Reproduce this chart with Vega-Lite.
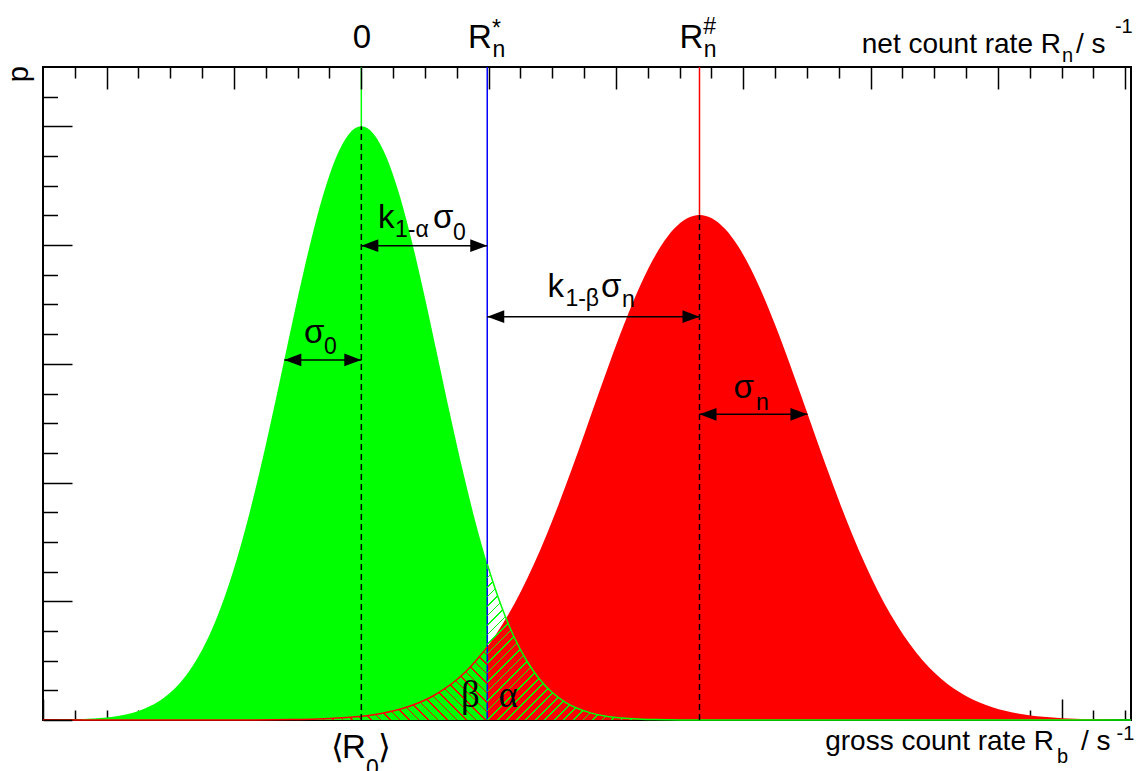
{
  "$schema": "https://vega.github.io/schema/vega-lite/v6.json",
  "width": 1088,
  "height": 653,
  "autosize": {"type": "none"},
  "padding": {"left": 43, "top": 67, "right": 5, "bottom": 51},
  "background": "white",
  "config": {
    "view": {"stroke": "#000", "strokeWidth": 2},
    "font": "Liberation Sans",
    "text": {"baseline": "alphabetic", "color": "#000", "font": "Liberation Sans"}
  },
  "resolve": {"axis": {"x": "independent", "y": "independent"}},
  "datasets": {
    "green": [
      {"x": 0, "y": 0.001}, {"x": 0.1, "y": 0.0019}, {"x": 0.2, "y": 0.0036}, {"x": 0.3, "y": 0.0067},
      {"x": 0.4, "y": 0.0121}, {"x": 0.5, "y": 0.0212}, {"x": 0.6, "y": 0.0361}, {"x": 0.7, "y": 0.0598},
      {"x": 0.8, "y": 0.0965}, {"x": 0.9, "y": 0.1514}, {"x": 1.0, "y": 0.2313}, {"x": 1.1, "y": 0.3437},
      {"x": 1.2, "y": 0.497}, {"x": 1.3, "y": 0.6993}, {"x": 1.4, "y": 0.9575}, {"x": 1.5, "y": 1.2756},
      {"x": 1.6, "y": 1.6536}, {"x": 1.7, "y": 2.0858}, {"x": 1.8, "y": 2.5602}, {"x": 1.9, "y": 3.0577},
      {"x": 2.0, "y": 3.5536}, {"x": 2.1, "y": 4.0184}, {"x": 2.2, "y": 4.4216}, {"x": 2.3, "y": 4.7341},
      {"x": 2.4, "y": 4.9322}, {"x": 2.5, "y": 5.0}, {"x": 2.6, "y": 4.9322}, {"x": 2.7, "y": 4.7341},
      {"x": 2.8, "y": 4.4216}, {"x": 2.9, "y": 4.0184}, {"x": 3.0, "y": 3.5536}, {"x": 3.1, "y": 3.0577},
      {"x": 3.2, "y": 2.5602}, {"x": 3.3, "y": 2.0858}, {"x": 3.4, "y": 1.6536}, {"x": 3.489, "y": 1.3142},
      {"x": 3.5, "y": 1.2756}, {"x": 3.6, "y": 0.9575}, {"x": 3.7, "y": 0.6993}, {"x": 3.8, "y": 0.497},
      {"x": 3.9, "y": 0.3437}, {"x": 4.0, "y": 0.2313}, {"x": 4.1, "y": 0.1514}, {"x": 4.2, "y": 0.0965},
      {"x": 4.3, "y": 0.0598}, {"x": 4.4, "y": 0.0361}, {"x": 4.5, "y": 0.0212}, {"x": 4.6, "y": 0.0121},
      {"x": 4.7, "y": 0.0067}, {"x": 4.8, "y": 0.0036}, {"x": 4.9, "y": 0.0019}, {"x": 5.0, "y": 0.001},
      {"x": 5.5, "y": 0.0001}, {"x": 6.5, "y": 0}, {"x": 8.545, "y": 0}
    ],
    "red": [
      {"x": 0, "y": 0}, {"x": 1.656, "y": 0.0008}, {"x": 1.956, "y": 0.0034}, {"x": 2.156, "y": 0.0081},
      {"x": 2.256, "y": 0.0123}, {"x": 2.356, "y": 0.0183}, {"x": 2.456, "y": 0.0268}, {"x": 2.556, "y": 0.0387},
      {"x": 2.656, "y": 0.0551}, {"x": 2.756, "y": 0.0776}, {"x": 2.856, "y": 0.1075}, {"x": 2.956, "y": 0.147},
      {"x": 3.056, "y": 0.1982}, {"x": 3.156, "y": 0.2635}, {"x": 3.256, "y": 0.3457}, {"x": 3.356, "y": 0.4471},
      {"x": 3.456, "y": 0.5703}, {"x": 3.489, "y": 0.6161}, {"x": 3.556, "y": 0.7174}, {"x": 3.656, "y": 0.8899},
      {"x": 3.756, "y": 1.0888}, {"x": 3.856, "y": 1.3136}, {"x": 3.956, "y": 1.563}, {"x": 4.056, "y": 1.8341},
      {"x": 4.156, "y": 2.1224}, {"x": 4.256, "y": 2.4221}, {"x": 4.356, "y": 2.7261}, {"x": 4.456, "y": 3.0258},
      {"x": 4.556, "y": 3.312}, {"x": 4.656, "y": 3.5752}, {"x": 4.756, "y": 3.8061}, {"x": 4.856, "y": 3.996},
      {"x": 4.956, "y": 4.1373}, {"x": 5.056, "y": 4.2245}, {"x": 5.156, "y": 4.254}, {"x": 5.256, "y": 4.2245},
      {"x": 5.356, "y": 4.1373}, {"x": 5.456, "y": 3.996}, {"x": 5.556, "y": 3.8061}, {"x": 5.656, "y": 3.5752},
      {"x": 5.756, "y": 3.312}, {"x": 5.856, "y": 3.0258}, {"x": 5.956, "y": 2.7261}, {"x": 6.056, "y": 2.4221},
      {"x": 6.156, "y": 2.1224}, {"x": 6.256, "y": 1.8341}, {"x": 6.356, "y": 1.563}, {"x": 6.456, "y": 1.3136},
      {"x": 6.556, "y": 1.0888}, {"x": 6.656, "y": 0.8899}, {"x": 6.756, "y": 0.7174}, {"x": 6.856, "y": 0.5703},
      {"x": 6.956, "y": 0.4471}, {"x": 7.056, "y": 0.3457}, {"x": 7.156, "y": 0.2635}, {"x": 7.256, "y": 0.1982},
      {"x": 7.356, "y": 0.147}, {"x": 7.456, "y": 0.1075}, {"x": 7.556, "y": 0.0776}, {"x": 7.656, "y": 0.0551},
      {"x": 7.756, "y": 0.0387}, {"x": 7.856, "y": 0.0268}, {"x": 7.956, "y": 0.0183}, {"x": 8.056, "y": 0.0123},
      {"x": 8.156, "y": 0.0081}, {"x": 8.356, "y": 0.0034}, {"x": 8.545, "y": 0.0014}
    ]
  },
  "layer": [
    {
      "data": {"name": "red"},
      "mark": {"type": "area", "color": "#ff0000", "interpolate": "monotone"},
      "encoding": {
        "x": {"field": "x", "type": "quantitative", "scale": {"domain": [0, 8.545], "nice": false, "zero": false},
          "axis": {"orient": "top", "values": [0.5, 1.5, 2.5, 3.5, 4.5, 5.5, 6.5, 7.5, 8.5], "tickSize": -22, "labels": false, "domain": false, "grid": false, "title": null, "tickColor": "#000", "tickWidth": 1.5, "zindex": 1}},
        "y": {"field": "y", "type": "quantitative", "scale": {"domain": [0, 5.5], "nice": false},
          "axis": {"orient": "left", "values": [0, 1, 2, 3, 4, 5], "tickSize": -29, "labels": false, "domain": false, "grid": false, "title": null, "tickColor": "#000", "tickWidth": 1.5, "zindex": 1}}
      }
    },
    {
      "data": {"name": "green"},
      "transform": [{"filter": "datum.x <= 3.489"}],
      "mark": {"type": "area", "color": "#00ff00", "interpolate": "monotone"},
      "encoding": {
        "x": {"field": "x", "type": "quantitative",
          "axis": {"orient": "top", "values": [0.25, 0.75, 1, 1.25, 1.75, 2, 2.25, 2.75, 3, 3.25, 3.75, 4, 4.25, 4.75, 5, 5.25, 5.75, 6, 6.25, 6.75, 7, 7.25, 7.75, 8, 8.25], "tickSize": -11, "labels": false, "domain": false, "grid": false, "title": null, "tickColor": "#000", "tickWidth": 1.5, "zindex": 1}},
        "y": {"field": "y", "type": "quantitative",
          "axis": {"orient": "left", "values": [0.25, 0.5, 0.75, 1.25, 1.5, 1.75, 2.25, 2.5, 2.75, 3.25, 3.5, 3.75, 4.25, 4.5, 4.75, 5.25], "tickSize": -14.5, "labels": false, "domain": false, "grid": false, "title": null, "tickColor": "#000", "tickWidth": 1.5, "zindex": 1}}
      }
    },
    {
      "data": {"values": [
        {"x": 2.5, "y": 5, "y2": 5.5, "line": "center"},
        {"x": 3.489, "y": 0, "y2": 5.5, "line": "limit"},
        {"x": 5.156, "y": 4.254, "y2": 5.5, "line": "mean"}
      ]},
      "mark": {"type": "rule", "strokeWidth": 1.5},
      "encoding": {
        "x": {"field": "x", "type": "quantitative", "axis": null},
        "y": {"field": "y", "type": "quantitative", "axis": null},
        "y2": {"field": "y2"},
        "color": {"field": "line", "type": "nominal", "scale": {"domain": ["center", "limit", "mean"], "range": ["#00ff00", "#0000ff", "#ff0000"]}, "legend": null}
      }
    },
    {
      "data": {"name": "red"},
      "transform": [{"filter": "datum.x >= 1.956 && datum.x <= 3.489"}],
      "mark": {"type": "area", "interpolate": "monotone",
        "fill": {"gradient": "linear", "x1": 0, "y1": 1, "x2": 1.2055, "y2": 0.5482, "stops": [
          {"offset": 0.01, "color": "transparent"}, {"offset": 0.01, "color": "#ff0000"}, {"offset": 0.016, "color": "#ff0000"}, {"offset": 0.016, "color": "transparent"},
          {"offset": 0.0454, "color": "transparent"}, {"offset": 0.0454, "color": "#ff0000"}, {"offset": 0.0514, "color": "#ff0000"}, {"offset": 0.0514, "color": "transparent"},
          {"offset": 0.0808, "color": "transparent"}, {"offset": 0.0808, "color": "#ff0000"}, {"offset": 0.0868, "color": "#ff0000"}, {"offset": 0.0868, "color": "transparent"},
          {"offset": 0.1162, "color": "transparent"}, {"offset": 0.1162, "color": "#ff0000"}, {"offset": 0.1222, "color": "#ff0000"}, {"offset": 0.1222, "color": "transparent"},
          {"offset": 0.1516, "color": "transparent"}, {"offset": 0.1516, "color": "#ff0000"}, {"offset": 0.1576, "color": "#ff0000"}, {"offset": 0.1576, "color": "transparent"},
          {"offset": 0.187, "color": "transparent"}, {"offset": 0.187, "color": "#ff0000"}, {"offset": 0.193, "color": "#ff0000"}, {"offset": 0.193, "color": "transparent"},
          {"offset": 0.2224, "color": "transparent"}, {"offset": 0.2224, "color": "#ff0000"}, {"offset": 0.2284, "color": "#ff0000"}, {"offset": 0.2284, "color": "transparent"},
          {"offset": 0.2578, "color": "transparent"}, {"offset": 0.2578, "color": "#ff0000"}, {"offset": 0.2638, "color": "#ff0000"}, {"offset": 0.2638, "color": "transparent"},
          {"offset": 0.2932, "color": "transparent"}, {"offset": 0.2932, "color": "#ff0000"}, {"offset": 0.2992, "color": "#ff0000"}, {"offset": 0.2992, "color": "transparent"},
          {"offset": 0.3286, "color": "transparent"}, {"offset": 0.3286, "color": "#ff0000"}, {"offset": 0.3346, "color": "#ff0000"}, {"offset": 0.3346, "color": "transparent"},
          {"offset": 0.364, "color": "transparent"}, {"offset": 0.364, "color": "#ff0000"}, {"offset": 0.37, "color": "#ff0000"}, {"offset": 0.37, "color": "transparent"},
          {"offset": 0.3994, "color": "transparent"}, {"offset": 0.3994, "color": "#ff0000"}, {"offset": 0.4054, "color": "#ff0000"}, {"offset": 0.4054, "color": "transparent"},
          {"offset": 0.4348, "color": "transparent"}, {"offset": 0.4348, "color": "#ff0000"}, {"offset": 0.4408, "color": "#ff0000"}, {"offset": 0.4408, "color": "transparent"},
          {"offset": 0.4702, "color": "transparent"}, {"offset": 0.4702, "color": "#ff0000"}, {"offset": 0.4762, "color": "#ff0000"}, {"offset": 0.4762, "color": "transparent"},
          {"offset": 0.5056, "color": "transparent"}, {"offset": 0.5056, "color": "#ff0000"}, {"offset": 0.5116, "color": "#ff0000"}, {"offset": 0.5116, "color": "transparent"},
          {"offset": 0.541, "color": "transparent"}, {"offset": 0.541, "color": "#ff0000"}, {"offset": 0.547, "color": "#ff0000"}, {"offset": 0.547, "color": "transparent"},
          {"offset": 0.5764, "color": "transparent"}, {"offset": 0.5764, "color": "#ff0000"}, {"offset": 0.5824, "color": "#ff0000"}, {"offset": 0.5824, "color": "transparent"},
          {"offset": 0.6118, "color": "transparent"}, {"offset": 0.6118, "color": "#ff0000"}, {"offset": 0.6178, "color": "#ff0000"}, {"offset": 0.6178, "color": "transparent"},
          {"offset": 0.6472, "color": "transparent"}, {"offset": 0.6472, "color": "#ff0000"}, {"offset": 0.6532, "color": "#ff0000"}, {"offset": 0.6532, "color": "transparent"},
          {"offset": 0.6826, "color": "transparent"}, {"offset": 0.6826, "color": "#ff0000"}, {"offset": 0.6886, "color": "#ff0000"}, {"offset": 0.6886, "color": "transparent"},
          {"offset": 0.718, "color": "transparent"}, {"offset": 0.718, "color": "#ff0000"}, {"offset": 0.724, "color": "#ff0000"}, {"offset": 0.724, "color": "transparent"},
          {"offset": 0.7534, "color": "transparent"}, {"offset": 0.7534, "color": "#ff0000"}, {"offset": 0.7594, "color": "#ff0000"}, {"offset": 0.7594, "color": "transparent"},
          {"offset": 0.7888, "color": "transparent"}, {"offset": 0.7888, "color": "#ff0000"}, {"offset": 0.7948, "color": "#ff0000"}, {"offset": 0.7948, "color": "transparent"},
          {"offset": 0.8242, "color": "transparent"}, {"offset": 0.8242, "color": "#ff0000"}, {"offset": 0.8302, "color": "#ff0000"}, {"offset": 0.8302, "color": "transparent"},
          {"offset": 0.8596, "color": "transparent"}, {"offset": 0.8596, "color": "#ff0000"}, {"offset": 0.8656, "color": "#ff0000"}, {"offset": 0.8656, "color": "transparent"},
          {"offset": 0.895, "color": "transparent"}, {"offset": 0.895, "color": "#ff0000"}, {"offset": 0.901, "color": "#ff0000"}, {"offset": 0.901, "color": "transparent"},
          {"offset": 0.9304, "color": "transparent"}, {"offset": 0.9304, "color": "#ff0000"}, {"offset": 0.9364, "color": "#ff0000"}, {"offset": 0.9364, "color": "transparent"},
          {"offset": 0.9658, "color": "transparent"}, {"offset": 0.9658, "color": "#ff0000"}, {"offset": 0.9718, "color": "#ff0000"}, {"offset": 0.9718, "color": "transparent"}
        ]}},
      "encoding": {
        "x": {"field": "x", "type": "quantitative",
          "axis": {"orient": "bottom", "values": [0, 1, 2, 3, 4, 5, 6, 7, 8], "tickSize": -21, "labels": false, "domain": false, "grid": false, "title": null, "tickColor": "#000", "tickWidth": 1.5, "zindex": 0}},
        "y": {"field": "y", "type": "quantitative", "axis": null}
      }
    },
    {
      "data": {"name": "green"},
      "transform": [{"filter": "datum.x >= 3.489 && datum.x <= 5.0"}],
      "mark": {"type": "area", "interpolate": "monotone",
        "fill": {"gradient": "linear", "x1": 0, "y1": 0, "x2": 1.0925, "y2": 0.886, "stops": [
          {"offset": 0.01, "color": "transparent"}, {"offset": 0.01, "color": "#00ff00"}, {"offset": 0.0146, "color": "#00ff00"}, {"offset": 0.0146, "color": "transparent"},
          {"offset": 0.0373, "color": "transparent"}, {"offset": 0.0373, "color": "#00ff00"}, {"offset": 0.0419, "color": "#00ff00"}, {"offset": 0.0419, "color": "transparent"},
          {"offset": 0.0646, "color": "transparent"}, {"offset": 0.0646, "color": "#00ff00"}, {"offset": 0.0692, "color": "#00ff00"}, {"offset": 0.0692, "color": "transparent"},
          {"offset": 0.0919, "color": "transparent"}, {"offset": 0.0919, "color": "#00ff00"}, {"offset": 0.0965, "color": "#00ff00"}, {"offset": 0.0965, "color": "transparent"},
          {"offset": 0.1192, "color": "transparent"}, {"offset": 0.1192, "color": "#00ff00"}, {"offset": 0.1238, "color": "#00ff00"}, {"offset": 0.1238, "color": "transparent"},
          {"offset": 0.1465, "color": "transparent"}, {"offset": 0.1465, "color": "#00ff00"}, {"offset": 0.1511, "color": "#00ff00"}, {"offset": 0.1511, "color": "transparent"},
          {"offset": 0.1738, "color": "transparent"}, {"offset": 0.1738, "color": "#00ff00"}, {"offset": 0.1784, "color": "#00ff00"}, {"offset": 0.1784, "color": "transparent"},
          {"offset": 0.2011, "color": "transparent"}, {"offset": 0.2011, "color": "#00ff00"}, {"offset": 0.2057, "color": "#00ff00"}, {"offset": 0.2057, "color": "transparent"},
          {"offset": 0.2284, "color": "transparent"}, {"offset": 0.2284, "color": "#00ff00"}, {"offset": 0.233, "color": "#00ff00"}, {"offset": 0.233, "color": "transparent"},
          {"offset": 0.2557, "color": "transparent"}, {"offset": 0.2557, "color": "#00ff00"}, {"offset": 0.2603, "color": "#00ff00"}, {"offset": 0.2603, "color": "transparent"},
          {"offset": 0.283, "color": "transparent"}, {"offset": 0.283, "color": "#00ff00"}, {"offset": 0.2876, "color": "#00ff00"}, {"offset": 0.2876, "color": "transparent"},
          {"offset": 0.3103, "color": "transparent"}, {"offset": 0.3103, "color": "#00ff00"}, {"offset": 0.3149, "color": "#00ff00"}, {"offset": 0.3149, "color": "transparent"},
          {"offset": 0.3376, "color": "transparent"}, {"offset": 0.3376, "color": "#00ff00"}, {"offset": 0.3422, "color": "#00ff00"}, {"offset": 0.3422, "color": "transparent"},
          {"offset": 0.3649, "color": "transparent"}, {"offset": 0.3649, "color": "#00ff00"}, {"offset": 0.3695, "color": "#00ff00"}, {"offset": 0.3695, "color": "transparent"},
          {"offset": 0.3922, "color": "transparent"}, {"offset": 0.3922, "color": "#00ff00"}, {"offset": 0.3968, "color": "#00ff00"}, {"offset": 0.3968, "color": "transparent"},
          {"offset": 0.4195, "color": "transparent"}, {"offset": 0.4195, "color": "#00ff00"}, {"offset": 0.4241, "color": "#00ff00"}, {"offset": 0.4241, "color": "transparent"},
          {"offset": 0.4468, "color": "transparent"}, {"offset": 0.4468, "color": "#00ff00"}, {"offset": 0.4514, "color": "#00ff00"}, {"offset": 0.4514, "color": "transparent"},
          {"offset": 0.4741, "color": "transparent"}, {"offset": 0.4741, "color": "#00ff00"}, {"offset": 0.4787, "color": "#00ff00"}, {"offset": 0.4787, "color": "transparent"},
          {"offset": 0.5014, "color": "transparent"}, {"offset": 0.5014, "color": "#00ff00"}, {"offset": 0.506, "color": "#00ff00"}, {"offset": 0.506, "color": "transparent"},
          {"offset": 0.5287, "color": "transparent"}, {"offset": 0.5287, "color": "#00ff00"}, {"offset": 0.5333, "color": "#00ff00"}, {"offset": 0.5333, "color": "transparent"},
          {"offset": 0.556, "color": "transparent"}, {"offset": 0.556, "color": "#00ff00"}, {"offset": 0.5606, "color": "#00ff00"}, {"offset": 0.5606, "color": "transparent"},
          {"offset": 0.5833, "color": "transparent"}, {"offset": 0.5833, "color": "#00ff00"}, {"offset": 0.5879, "color": "#00ff00"}, {"offset": 0.5879, "color": "transparent"},
          {"offset": 0.6106, "color": "transparent"}, {"offset": 0.6106, "color": "#00ff00"}, {"offset": 0.6152, "color": "#00ff00"}, {"offset": 0.6152, "color": "transparent"},
          {"offset": 0.6379, "color": "transparent"}, {"offset": 0.6379, "color": "#00ff00"}, {"offset": 0.6425, "color": "#00ff00"}, {"offset": 0.6425, "color": "transparent"},
          {"offset": 0.6652, "color": "transparent"}, {"offset": 0.6652, "color": "#00ff00"}, {"offset": 0.6698, "color": "#00ff00"}, {"offset": 0.6698, "color": "transparent"},
          {"offset": 0.6925, "color": "transparent"}, {"offset": 0.6925, "color": "#00ff00"}, {"offset": 0.6971, "color": "#00ff00"}, {"offset": 0.6971, "color": "transparent"},
          {"offset": 0.7198, "color": "transparent"}, {"offset": 0.7198, "color": "#00ff00"}, {"offset": 0.7244, "color": "#00ff00"}, {"offset": 0.7244, "color": "transparent"},
          {"offset": 0.7471, "color": "transparent"}, {"offset": 0.7471, "color": "#00ff00"}, {"offset": 0.7517, "color": "#00ff00"}, {"offset": 0.7517, "color": "transparent"},
          {"offset": 0.7744, "color": "transparent"}, {"offset": 0.7744, "color": "#00ff00"}, {"offset": 0.779, "color": "#00ff00"}, {"offset": 0.779, "color": "transparent"},
          {"offset": 0.8017, "color": "transparent"}, {"offset": 0.8017, "color": "#00ff00"}, {"offset": 0.8063, "color": "#00ff00"}, {"offset": 0.8063, "color": "transparent"},
          {"offset": 0.829, "color": "transparent"}, {"offset": 0.829, "color": "#00ff00"}, {"offset": 0.8336, "color": "#00ff00"}, {"offset": 0.8336, "color": "transparent"},
          {"offset": 0.8563, "color": "transparent"}, {"offset": 0.8563, "color": "#00ff00"}, {"offset": 0.8609, "color": "#00ff00"}, {"offset": 0.8609, "color": "transparent"},
          {"offset": 0.8836, "color": "transparent"}, {"offset": 0.8836, "color": "#00ff00"}, {"offset": 0.8882, "color": "#00ff00"}, {"offset": 0.8882, "color": "transparent"},
          {"offset": 0.9109, "color": "transparent"}, {"offset": 0.9109, "color": "#00ff00"}, {"offset": 0.9155, "color": "#00ff00"}, {"offset": 0.9155, "color": "transparent"},
          {"offset": 0.9382, "color": "transparent"}, {"offset": 0.9382, "color": "#00ff00"}, {"offset": 0.9428, "color": "#00ff00"}, {"offset": 0.9428, "color": "transparent"},
          {"offset": 0.9655, "color": "transparent"}, {"offset": 0.9655, "color": "#00ff00"}, {"offset": 0.9701, "color": "#00ff00"}, {"offset": 0.9701, "color": "transparent"}
        ]}},
      "encoding": {
        "x": {"field": "x", "type": "quantitative",
          "axis": {"orient": "bottom", "values": [0.25, 0.5, 0.75, 1.25, 1.5, 1.75, 2.25, 2.5, 2.75, 3.25, 3.5, 3.75, 4.25, 4.5, 4.75, 5.25, 5.5, 5.75, 6.25, 6.5, 6.75, 7.25, 7.5, 7.75, 8.25, 8.5], "tickSize": -10, "labels": false, "domain": false, "grid": false, "title": null, "tickColor": "#000", "tickWidth": 1.5, "zindex": 0}},
        "y": {"field": "y", "type": "quantitative", "axis": null}
      }
    },
    {
      "data": {"name": "red"},
      "transform": [{"filter": "datum.x <= 3.489"}],
      "mark": {"type": "line", "color": "#ff0000", "strokeWidth": 1.5, "interpolate": "monotone"},
      "encoding": {
        "x": {"field": "x", "type": "quantitative", "axis": null},
        "y": {"field": "y", "type": "quantitative", "axis": null}
      }
    },
    {
      "data": {"name": "green"},
      "transform": [{"filter": "datum.x >= 3.489"}],
      "mark": {"type": "line", "color": "#00ff00", "strokeWidth": 1.5, "interpolate": "monotone"},
      "encoding": {
        "x": {"field": "x", "type": "quantitative", "axis": null},
        "y": {"field": "y", "type": "quantitative", "axis": null}
      }
    },
    {
      "data": {"values": [
        {"x": 2.5, "y": 0, "y2": 5.0},
        {"x": 5.156, "y": 0, "y2": 4.254}
      ]},
      "mark": {"type": "rule", "color": "#000", "strokeWidth": 1.5, "strokeDash": [6, 4]},
      "encoding": {
        "x": {"field": "x", "type": "quantitative", "axis": null},
        "y": {"field": "y", "type": "quantitative", "axis": null},
        "y2": {"field": "y2"}
      }
    },
    {
      "data": {"values": [
        {"x": 1.895, "x2": 2.5, "y": 3.033},
        {"x": 2.5, "x2": 3.489, "y": 3.995},
        {"x": 3.489, "x2": 5.156, "y": 3.397},
        {"x": 5.156, "x2": 6.004, "y": 2.575}
      ]},
      "mark": {"type": "rule", "color": "#000", "strokeWidth": 1.5},
      "encoding": {
        "x": {"field": "x", "type": "quantitative", "axis": null},
        "x2": {"field": "x2"},
        "y": {"field": "y", "type": "quantitative", "axis": null}
      }
    },
    {
      "data": {"values": [
        {"x": 1.895, "y": 3.033, "dir": "left"}, {"x": 2.5, "y": 3.033, "dir": "right"},
        {"x": 2.5, "y": 3.995, "dir": "left"}, {"x": 3.489, "y": 3.995, "dir": "right"},
        {"x": 3.489, "y": 3.397, "dir": "left"}, {"x": 5.156, "y": 3.397, "dir": "right"},
        {"x": 5.156, "y": 2.575, "dir": "left"}, {"x": 6.004, "y": 2.575, "dir": "right"}
      ]},
      "mark": {"type": "point", "filled": true, "opacity": 1, "color": "#000", "strokeWidth": 0, "size": 289},
      "encoding": {
        "x": {"field": "x", "type": "quantitative", "axis": null},
        "y": {"field": "y", "type": "quantitative", "axis": null},
        "shape": {"field": "dir", "type": "nominal", "legend": null,
          "scale": {"domain": ["left", "right"], "range": ["M0,0L2,-0.75L2,0.75Z", "M0,0L-2,-0.75L-2,0.75Z"]}}
      }
    },
    {
      "data": {"values": [
        {"x": 3.338, "y": 5.658, "t": "R"},
        {"x": 4.999, "y": 5.658, "t": "R"},
        {"x": 2.05, "y": 3.175, "t": "σ"},
        {"x": 2.631, "y": 4.14, "t": "k"},
        {"x": 3.063, "y": 4.14, "t": "σ"},
        {"x": 3.962, "y": 3.563, "t": "k"},
        {"x": 4.382, "y": 3.563, "t": "σ"},
        {"x": 5.423, "y": 2.712, "t": "σ"},
        {"x": 2.348, "y": -0.32, "t": "R"}
      ]},
      "mark": {"type": "text", "align": "left", "fontSize": 33},
      "encoding": {
        "x": {"field": "x", "type": "quantitative", "axis": null},
        "y": {"field": "y", "type": "quantitative", "axis": null},
        "text": {"field": "t"}
      }
    },
    {
      "data": {"values": [{"x": 2.505, "y": 5.658, "t": "0"}]},
      "mark": {"type": "text", "align": "center", "fontSize": 33},
      "encoding": {
        "x": {"field": "x", "type": "quantitative", "axis": null},
        "y": {"field": "y", "type": "quantitative", "axis": null},
        "text": {"field": "t"}
      }
    },
    {
      "data": {"values": [
        {"x": 3.526, "y": 5.761, "t": "*"},
        {"x": 3.53, "y": 5.584, "t": "n"},
        {"x": 5.186, "y": 5.778, "t": "#"},
        {"x": 5.19, "y": 5.584, "t": "n"},
        {"x": 2.207, "y": 3.083, "t": "0"},
        {"x": 2.764, "y": 4.064, "t": "1-α"},
        {"x": 3.22, "y": 4.043, "t": "0"},
        {"x": 4.103, "y": 3.483, "t": "1-β"},
        {"x": 4.547, "y": 3.479, "t": "n"},
        {"x": 5.6, "y": 2.611, "t": "n"},
        {"x": 2.537, "y": -0.472, "t": "0"}
      ]},
      "mark": {"type": "text", "align": "left", "fontSize": 23},
      "encoding": {
        "x": {"field": "x", "type": "quantitative", "axis": null},
        "y": {"field": "y", "type": "quantitative", "axis": null},
        "text": {"field": "t"}
      }
    },
    {
      "data": {"values": [
        {"x": 7.995, "y": 5.615, "t": "net count rate R"},
        {"x": 7.94, "y": -0.2527, "t": "gross count rate R"}
      ]},
      "mark": {"type": "text", "align": "right", "fontSize": 28},
      "encoding": {
        "x": {"field": "x", "type": "quantitative", "axis": null},
        "y": {"field": "y", "type": "quantitative", "axis": null},
        "text": {"field": "t"}
      }
    },
    {
      "data": {"values": [
        {"x": 8.113, "y": 5.615, "t": "/ s"},
        {"x": 8.152, "y": -0.2527, "t": "/ s"}
      ]},
      "mark": {"type": "text", "align": "left", "fontSize": 28},
      "encoding": {
        "x": {"field": "x", "type": "quantitative", "axis": null},
        "y": {"field": "y", "type": "quantitative", "axis": null},
        "text": {"field": "t"}
      }
    },
    {
      "data": {"values": [
        {"x": 8.003, "y": 5.542, "t": "n"},
        {"x": 8.419, "y": 5.784, "t": "-1"},
        {"x": 7.963, "y": -0.3622, "t": "b"},
        {"x": 8.431, "y": -0.1685, "t": "-1"}
      ]},
      "mark": {"type": "text", "align": "left", "fontSize": 20},
      "encoding": {
        "x": {"field": "x", "type": "quantitative", "axis": null},
        "y": {"field": "y", "type": "quantitative", "axis": null},
        "text": {"field": "t"}
      }
    },
    {
      "data": {"values": [
        {"x": 2.262, "y": -0.32, "t": "⟨"},
        {"x": 2.631, "y": -0.32, "t": "⟩"}
      ]},
      "mark": {"type": "text", "align": "left", "fontSize": 33, "font": "DejaVu Sans"},
      "encoding": {
        "x": {"field": "x", "type": "quantitative", "axis": null},
        "y": {"field": "y", "type": "quantitative", "axis": null},
        "text": {"field": "t"}
      }
    },
    {
      "data": {"values": [
        {"x": 3.283, "y": 0.1095, "t": "β"},
        {"x": 3.578, "y": 0.1095, "t": "α"}
      ]},
      "mark": {"type": "text", "align": "left", "fontSize": 37, "font": "Liberation Serif"},
      "encoding": {
        "x": {"field": "x", "type": "quantitative", "axis": null},
        "y": {"field": "y", "type": "quantitative", "axis": null},
        "text": {"field": "t"}
      }
    },
    {
      "data": {"values": [{"x": -0.118, "y": 5.508, "t": "p"}]},
      "mark": {"type": "text", "align": "right", "angle": 270, "fontSize": 29},
      "encoding": {
        "x": {"field": "x", "type": "quantitative", "axis": null},
        "y": {"field": "y", "type": "quantitative", "axis": null},
        "text": {"field": "t"}
      }
    }
  ]
}
